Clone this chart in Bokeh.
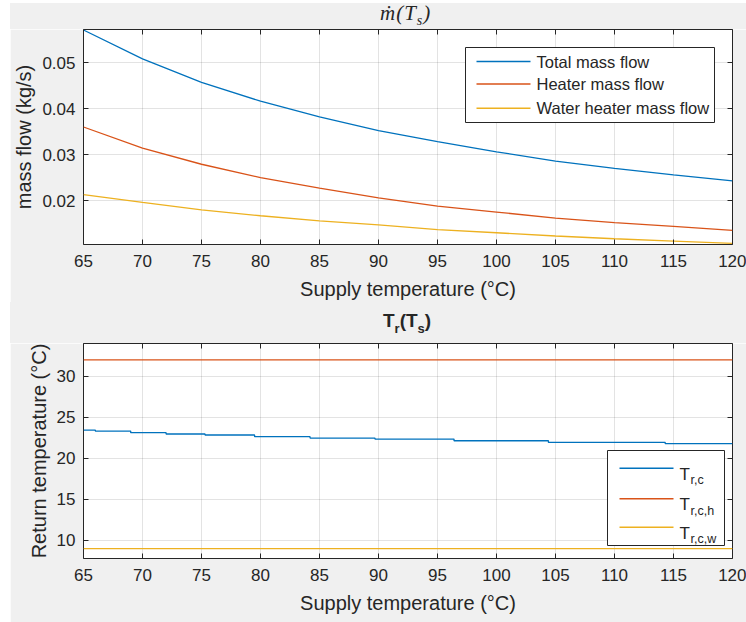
from bokeh.plotting import figure
from bokeh.models import Range1d, FixedTicker, LinearAxis, Label, BoxAnnotation, Div
from bokeh.layouts import column
from bokeh.embed import file_html
from bokeh.resources import INLINE

# ---------------- data ----------------
supply_T = [65, 70, 75, 80, 85, 90, 95, 100, 105, 110, 115, 120]
total_flow = [0.0571, 0.0508, 0.0457, 0.0416, 0.0382, 0.0352, 0.0328, 0.0306, 0.0286, 0.0270, 0.0256, 0.0243]
heater_flow = [0.0360, 0.0314, 0.0279, 0.0250, 0.0227, 0.0206, 0.0188, 0.0175, 0.0162, 0.0152, 0.0144, 0.0135]
water_flow = [0.0213, 0.0196, 0.0180, 0.0167, 0.0156, 0.0147, 0.0137, 0.0130, 0.0123, 0.0117, 0.0112, 0.0107]

tr_c_T = [65, 66, 69, 72, 75.3, 79.5, 84.2, 89.7, 96.4, 104.4, 114.3, 120]
tr_c = [23.45, 23.33, 23.13, 22.97, 22.85, 22.64, 22.48, 22.35, 22.15, 21.95, 21.79, 21.79]
const_T = [65, 120]
tr_ch = [32.0, 32.0]
tr_cw = [9.0, 9.0]

x_ticks = [65, 70, 75, 80, 85, 90, 95, 100, 105, 110, 115, 120]
flow_ticks = [0.02, 0.03, 0.04, 0.05]
temp_ticks = [10, 15, 20, 25, 30]
flow_range = (0.01045, 0.0572)
temp_range = (7.8, 34.0)

top_legend = ["Total mass flow", "Heater mass flow", "Water heater mass flow"]
bottom_legend_sub = ["r,c", "r,c,h", "r,c,w"]
colors = ["#0072BD", "#D95319", "#EDB120"]

x_label = "Supply temperature (\u00b0C)"
top_ylabel = "mass flow (kg/s)"
bottom_ylabel = "Return temperature (\u00b0C)"

INK = "#262626"
GRAY = "#f0f0f0"
SANS = "Liberation Sans"
SERIF = "Liberation Serif"


def make_fig(y_rng, y_ticks, y_label, border_bottom):
    p = figure(width=736, height=215 + border_bottom,
               frame_width=649, frame_height=215,
               x_range=Range1d(65, 120), y_range=Range1d(*y_rng),
               min_border_left=73, min_border_right=14,
               min_border_top=0, min_border_bottom=border_bottom,
               output_backend="svg", toolbar_location=None,
               background_fill_color="white", border_fill_color=GRAY,
               outline_line_color=INK, outline_line_width=1)
    p.xaxis.ticker = FixedTicker(ticks=x_ticks)
    p.yaxis.ticker = FixedTicker(ticks=y_ticks)
    for ax in (p.xaxis[0], p.yaxis[0]):
        ax.major_tick_in = 5
        ax.major_tick_out = 0
        ax.minor_tick_line_color = None
        ax.axis_line_color = None
        ax.major_tick_line_color = INK
        ax.major_label_text_font = SANS
        ax.major_label_text_font_size = "17px"
        ax.major_label_text_color = INK
        ax.axis_label_text_font = SANS
        ax.axis_label_text_font_size = "20px"
        ax.axis_label_text_font_style = "normal"
        ax.axis_label_text_color = INK
    p.xaxis.axis_label = x_label
    p.yaxis.axis_label = y_label
    p.xaxis.major_label_standoff = 10
    p.xaxis.axis_label_standoff = 8
    p.yaxis.major_label_standoff = 8
    p.yaxis.axis_label_standoff = 4
    p.xgrid.ticker = FixedTicker(ticks=x_ticks)
    p.ygrid.ticker = FixedTicker(ticks=y_ticks)
    p.grid.grid_line_color = INK
    p.grid.grid_line_alpha = 0.13
    # mirrored ticks (box on), no labels
    for ticks, side in ((x_ticks, "above"), (y_ticks, "right")):
        ax = LinearAxis(ticker=FixedTicker(ticks=ticks), major_label_text_font_size="0px",
                        major_label_text_color=None, major_label_standoff=0,
                        major_tick_in=5, major_tick_out=0, axis_line_color=None,
                        minor_tick_line_color=None, major_tick_line_color=INK)
        p.add_layout(ax, side)
    return p


def screen_label(p, x, y, text, size="17px", baseline="alphabetic"):
    p.add_layout(Label(x=x, y=y, x_units="screen", y_units="screen", text=text,
                       text_font=SANS, text_font_size=size, text_color=INK,
                       text_baseline=baseline, text_align="left"))


def legend_box(p, left, right, top, bottom):
    p.add_layout(BoxAnnotation(left=left, right=right, top=top, bottom=bottom,
                               left_units="screen", right_units="screen",
                               top_units="screen", bottom_units="screen",
                               fill_color="white", fill_alpha=1.0,
                               line_color=INK, line_width=1, line_alpha=1.0))


def legend_line(p, x0, x1, y, color):
    p.add_layout(BoxAnnotation(left=x0, right=x1, top=y + 0.7, bottom=y - 0.7,
                               left_units="screen", right_units="screen",
                               top_units="screen", bottom_units="screen",
                               fill_color=color, fill_alpha=1.0, line_color=None))


def title_div(html, height, margin, left, top):
    inner = ('<div style="position:relative;width:736px;height:%dpx;">'
             '<div style="position:absolute;left:%dpx;top:%dpx;white-space:nowrap;'
             'color:%s;line-height:20px;">%s</div></div>') % (height, left, top, INK, html)
    return Div(text=inner, width=736, height=height, margin=margin,
               styles={"background-color": GRAY})


# ---------------- top panel ----------------
t1 = title_div('<span style="font:italic 21px \'Liberation Serif\';letter-spacing:1px;">\u1e41(T'
               '<span style="font-size:14px;vertical-align:-5px;">s</span>)</span>',
               26, (3, 0, 0, 10), 370, -2)

p1 = make_fig(flow_range, flow_ticks, top_ylabel, 56)
p1.line(supply_T, total_flow, line_color=colors[0], line_width=1.3)
p1.line(supply_T, heater_flow, line_color=colors[1], line_width=1.3)
p1.line(supply_T, water_flow, line_color=colors[2], line_width=1.3)

legend_box(p1, 382, 631, 197, 122)
for i, (lab, col) in enumerate(zip(top_legend, colors)):
    ly = [183, 160.5, 136.3][i]
    legend_line(p1, 393, 447, ly, col)
    screen_label(p1, 453, ly, lab, size="16.5px", baseline="middle")

# ---------------- bottom panel ----------------
t2 = title_div('<span style="font:bold 19px \'Liberation Sans\';">T'
               '<span style="font-size:13px;vertical-align:-6px;">r</span>(T'
               '<span style="font-size:13px;vertical-align:-6px;">s</span>)</span>',
               41, (0, 0, 0, 10), 373, 8)

p2 = make_fig(temp_range, temp_ticks, bottom_ylabel, 64)
p2.step(tr_c_T, tr_c, mode="after", line_color=colors[0], line_width=1.3)
p2.line(const_T, tr_ch, line_color=colors[1], line_width=1.3)
p2.line(const_T, tr_cw, line_color=colors[2], line_width=1.3)

legend_box(p2, 524, 641, 108, 13)
for i, (sub, col) in enumerate(zip(bottom_legend_sub, colors)):
    ly = [90.3, 59.7, 31.3][i]
    legend_line(p2, 536, 590, ly, col)
    screen_label(p2, 596, ly - 6, "T", size="17px")
    screen_label(p2, 607, ly - 12, sub, size="12.5px")

p1.margin = (0, 0, 0, 10)
p2.margin = (0, 0, 0, 10)
layout = column(t1, p1, t2, p2)

open("out.html", "w").write(file_html(layout, INLINE))
